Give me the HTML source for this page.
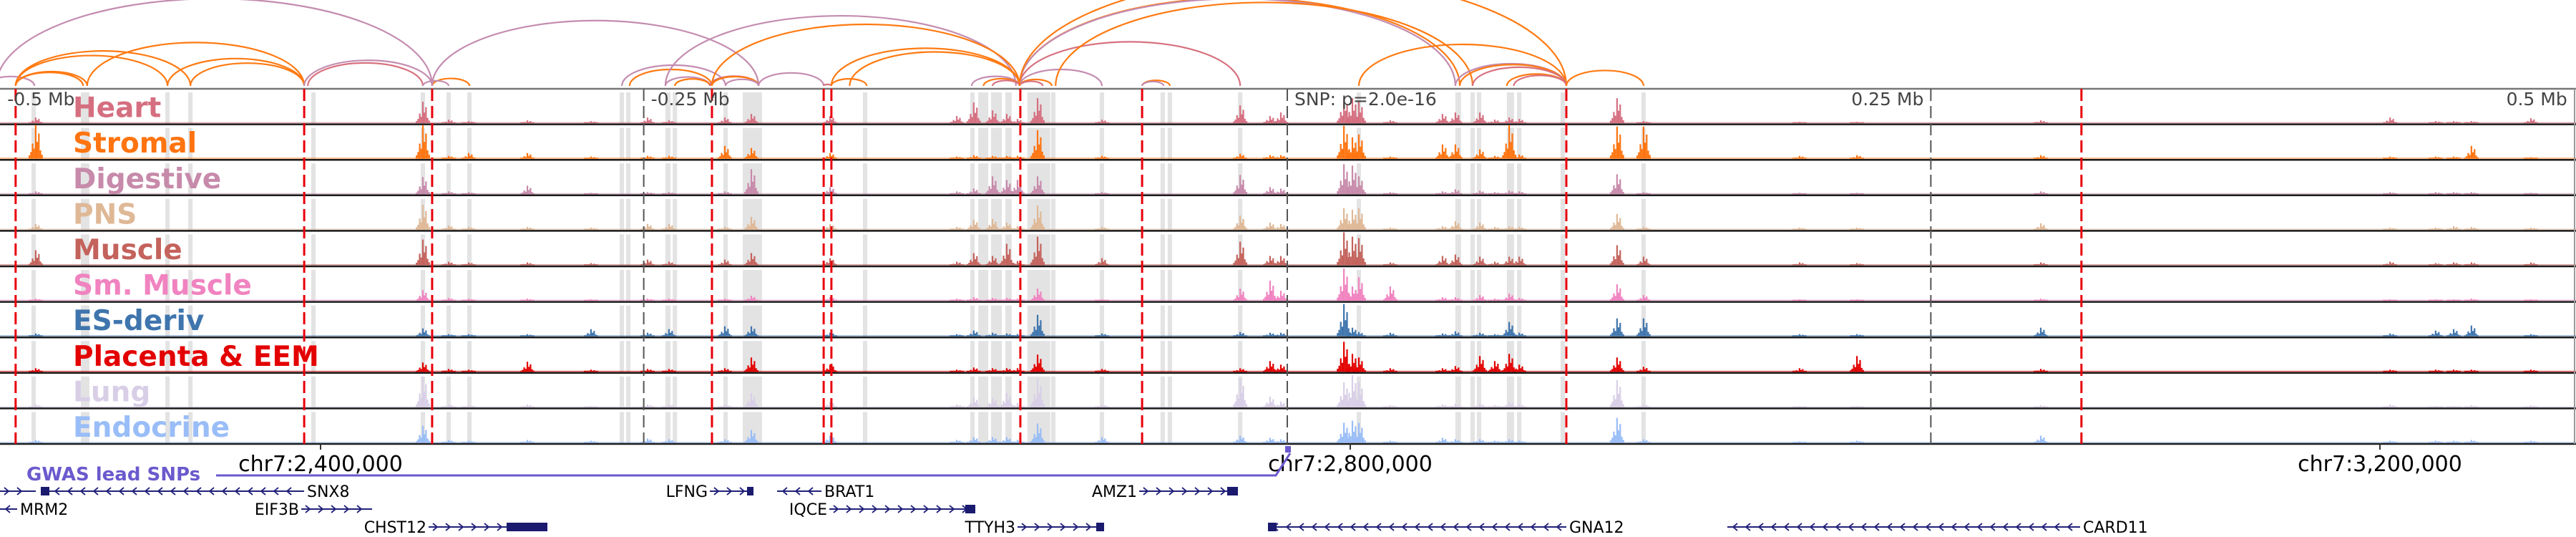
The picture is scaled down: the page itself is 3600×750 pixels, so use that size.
<!DOCTYPE html>
<html><head><meta charset="utf-8"><style>
html,body{margin:0;padding:0;background:#fff;}
svg{display:block;font-family:"DejaVu Sans","Liberation Sans",sans-serif;}
</style></head><body>
<svg id="fig" width="3600" height="750" viewBox="0 0 3600 750" xmlns="http://www.w3.org/2000/svg">
<g id="bands"></g>
<g id="arcs"></g>
<g id="tracks"></g>
<g id="vlines"></g>
<g id="labels"></g>
<g id="axis"></g>
<g id="genes"></g>
</svg>
<script>
// ---- data ----
const snpBp = 2775538;
const axisTickBp = [2400000, 2800000, 3200000];
const axisTickLabels = ["chr7:2,400,000", "chr7:2,800,000", "chr7:3,200,000"];
const relTickKb = [-500, -250, 0, 250, 500];
const relTickLabels = ["-0.5 Mb", "-0.25 Mb", "SNP: p=2.0e-16", "0.25 Mb", "0.5 Mb"];
const trackNames = ["Heart","Stromal","Digestive","PNS","Muscle","Sm. Muscle","ES-deriv","Placenta & EEM","Lung","Endocrine"];
const trackColors = ["#d56f80","#ff7410","#c78aaa","#dfb896","#c4625c","#f083c0","#3f75ad","#e30000","#d8cfe7","#99bdf7"];
const peakKb = [-486.2,-335.8,-325.8,-318.0,-295.2,-270.5,-248.5,-240.2,-218.5,-208.2,-177.6,-128.4,-121.8,-114.5,-109.0,-104.8,-97.0,-72.0,-18.3,-6.7,-2.5,22.0,25.3,27.8,40.0,60.3,65.3,74.8,80.6,86.2,90.1,128.1,138.4,199.0,221.3,292.7,428.4,446.1,453.1,460.0,483.1];
const heartVals    = [8,30,5,3,4,3,8,4,8,13,10,10,29,18,13,6,35,5,25,10,15,35,35,30,4,13,15,15,5,8,6,35,3,2,2,4,8,3,3,3,7];
const stromalVals  = [47,47,4,8,8,3,4,4,18,15,8,3,5,4,4,4,40,4,7,5,5,46,30,34,3,20,20,13,4,47,6,45,45,4,5,5,3,3,3,18,2];
const digestVals   = [4,24,4,3,12,2,3,3,4,35,10,4,8,25,20,20,25,3,27,10,8,42,40,25,3,4,7,5,3,5,4,28,3,2,2,4,3,3,3,3,2];
const pnsVals      = [8,35,6,4,4,3,8,8,4,18,8,4,14,15,10,5,34,4,20,10,8,30,28,30,3,5,12,10,4,5,4,22,4,3,3,9,3,3,5,4,3];
const muscleVals   = [21,36,5,4,4,3,8,5,8,17,10,5,17,13,30,6,40,10,33,13,13,46,40,38,4,13,15,12,5,12,12,28,12,4,3,4,5,3,4,4,4];
const smMuscleVals = [3,15,4,3,3,2,3,3,3,7,5,3,5,4,4,3,17,2,17,28,14,45,20,33,20,5,5,8,3,10,4,23,8,2,2,3,2,2,2,3,2];
const esVals       = [4,11,3,3,3,10,5,10,14,14,5,3,8,5,4,3,30,4,6,5,5,45,12,6,5,4,7,5,3,20,5,25,25,3,3,12,4,8,10,15,3];
const placentaVals = [5,13,4,3,14,3,4,4,5,20,10,3,6,5,5,5,24,4,5,15,10,42,25,20,5,5,8,22,15,25,10,20,7,5,22,4,3,3,3,3,3];
const lungVals     = [4,43,4,3,4,2,4,4,4,20,8,4,14,13,20,6,40,4,40,15,8,35,45,35,3,4,5,5,3,7,4,38,4,2,2,3,4,2,2,3,3];
const endoVals     = [4,24,4,3,4,3,6,5,5,18,10,4,8,8,8,4,27,8,10,7,5,28,31,28,3,7,5,5,3,5,3,35,5,2,3,10,3,3,3,4,3];
const trackVals = [heartVals,stromalVals,digestVals,pnsVals,muscleVals,smMuscleVals,esVals,placentaVals,lungVals,endoVals];
const bandKb = [-487.0,-467.8,-466.2,-435.0,-426.1,-378.3,-335.8,-325.8,-317.7,-258.5,-256.0,-240.6,-237.9,-218.2,-207.8,-164.0,-122.3,-118.1,-113.0,-108.3,-96.5,-90.9,-72.0,-48.4,-45.6,-18.3,27.8,66.4,72.0,74.5,86.7,90.1,107.0,138.4];
const bandWidthKb = [1.7,1.7,1.7,1.7,1.7,1.7,1.7,1.7,1.7,1.7,1.7,2,1.7,1.7,7.5,1.7,1.7,3.9,4.2,2.5,8.9,1.7,1.7,1.7,1.7,1.7,1.7,2.2,1.7,1.7,2.8,1.7,1.7,1.7];
const redLineKb = [-494.0,-381.9,-332.2,-223.5,-180.1,-177.1,-103.7,-56.4,108.4,308.5];
const arcStartKb = [-501.5,-505,-494.0,-494.0,-494.0,-494.0,-466.2,-435.0,-426.1,-381.9,-380.5,-332.2,-335.8,-332.2,-258.5,-255.5,-241.6,-237.9,-224.3,-223.5,-218.2,-241.6,-223.5,-205.4,-177.1,-180.1,-177.1,-170,-122.6,-118,-114.5,-104.0,-104.0,-104.0,-104.0,-56.4,-56.4,-104.0,-104.0,-90,-104,27.8,65.3,67.0,72.0,85.3,88,108.4];
const arcEndKb   = [-332.2,-486.7,-435.0,-426.1,-467.8,-466.2,-381.9,-381.9,-381.9,-332.2,-335.8,-317.7,-325.8,-205.4,-218.2,-223.5,-224.3,-224.3,-205.4,-205.4,-205.4,-105.4,-104.0,-180.1,-163.4,-177.1,-104.0,-104.0,-104.0,-104.0,-104.0,-91.5,-95,-72.0,-18.3,-45.6,-48,67.0,65.3,72.0,108.4,108.4,108.4,108.4,108.4,108.4,108.4,138.4];
const arcType    = ["P","P","O","O","O","O","O","O","O","P","H","O","P","P","P","O","P","O","H","O","P","P","O","P","O","H","O","O","P","O","H","O","H","P","H","O","P","O","P","O","O","O","P","O","H","O","H","O"];

// ---- scales ----
const NS = "http://www.w3.org/2000/svg";
const pxPerBp = 0.0035975, bp0 = 2275469;
function xBp(bp){ return (bp - bp0) * pxPerBp; }
function xKb(kb){ return xBp(snpBp + kb*1000); }
const panelTop = 124, trackH = 49.6, nTracks = 10;
const panelBottom = panelTop + trackH*nTracks;
function trackBottom(i){ return panelTop + trackH*(i+1); }
function yVal(i, v){ return trackBottom(i) - 1.5 - v; }
const arcBase = 120;
function mk(tag, attrs, parent){ const e=document.createElementNS(NS,tag); for(const k in attrs) e.setAttribute(k, attrs[k]); parent.appendChild(e); return e; }
const arcColors = {O:"#ff7a12", P:"#c48cb0", H:"#d7717f"};

// bands
const gB = document.getElementById("bands");
bandKb.forEach((kb,i)=>{
  const w = Math.max(5, bandWidthKb[i]*1000*pxPerBp);
  for(let t=0;t<nTracks;t++){
    const r = mk("rect",{x:xKb(kb)-w/2, y:panelTop+trackH*t+5, width:w, height:trackH-5, fill:"#e3e3e3"}, gB);
    
    
  }
});

// arcs
const gA = document.getElementById("arcs");
arcStartKb.forEach((s,i)=>{
  const x1 = xKb(s), x2 = xKb(arcEndKb[i]);
  const rx = Math.abs(x2-x1)/2, ry = rx*2*0.2;
  const p = mk("path",{d:`M${x1},${arcBase} A${rx},${ry} 0 0 1 ${x2},${arcBase}`, fill:"none", stroke:arcColors[arcType[i]], "stroke-width":2.2}, gA);
  
  
});

// tracks
const gT = document.getElementById("tracks");
const shape = [0.1,0.2,0.45,0.3,1,0.5,0.75,0.25,0.12];
trackVals.forEach((vals,t)=>{
  const col = trackColors[t];
  const base = mk("rect",{x:0,y:trackBottom(t)-3,width:3600,height:1.5,fill:col,opacity:0.6},gT);
  
  
  vals.forEach((v,j)=>{
    const cx = xKb(peakKb[j]);
    shape.forEach((f,k)=>{
      const h = Math.max(1.5, v*f);
      const r = mk("rect",{x:cx+(k-4)*2.2-1.1, y:yVal(t,h), width:2.2, height:h, fill:col}, gT);
      
      
    });
  });
  const sep = mk("line",{x1:0,x2:3600,y1:trackBottom(t),y2:trackBottom(t),stroke:"#1a1a1a","stroke-width":2.5},gT);
  
  
});
const topL = mk("line",{x1:0,x2:3600,y1:panelTop,y2:panelTop,stroke:"#777","stroke-width":2.5},gT);


const rightL = mk("line",{x1:3598,x2:3598,y1:panelTop,y2:panelBottom,stroke:"#999","stroke-width":2},gT);



// vertical marker lines
const gV = document.getElementById("vlines");
redLineKb.forEach(kb=>{
  const l = mk("line",{x1:xKb(kb),x2:xKb(kb),y1:panelTop,y2:panelBottom,stroke:"#e8000b","stroke-width":3,"stroke-dasharray":"17 7"},gV);
  
  
});
relTickKb.forEach((kb,i)=>{
  const x = xKb(kb);
  if (Math.abs(kb) < 400) {
    const l = mk("line",{x1:x,x2:x,y1:panelTop,y2:panelBottom,stroke:"#555","stroke-width":2,"stroke-dasharray":"17 7"},gV);
    
    
  }
  const right = kb > 0;
  const tx = mk("text",{x: right ? x-10 : x+10, y:147, "font-size":25, fill:"#444", "text-anchor": right ? "end":"start"}, gV);
  tx.textContent = relTickLabels[i];
  
  
});

// track labels
const gL = document.getElementById("labels");
trackNames.forEach((n,t)=>{
  const tx = mk("text",{x:102,y:trackBottom(t)-10,"font-size":39,"font-weight":"bold",fill:trackColors[t]},gL);
  tx.textContent = n;
  
  
});

// axis
const gX = document.getElementById("axis");
axisTickBp.forEach((bp,i)=>{
  const x = xBp(bp);
  const l = mk("line",{x1:x,x2:x,y1:panelBottom,y2:panelBottom+8,stroke:"#333","stroke-width":2},gX);
  
  
  const tx = mk("text",{x:x,y:658,"font-size":30,"text-anchor":"middle",fill:"#000"},gX);
  tx.textContent = axisTickLabels[i];
  
  
});
const snpX = xKb(0);
const snpBox = mk("rect",{x:snpX-3,y:623,width:8,height:9,fill:"#6a5acd"},gX);


const gw = mk("polyline",{points:`302,664 ${snpX-16},664 ${snpX+4},633`,fill:"none",stroke:"#6a5acd","stroke-width":3},gX);


const gwt = mk("text",{x:37,y:671,"font-size":26,"font-weight":"bold",fill:"#6a5acd"},gX);
gwt.textContent = "GWAS lead SNPs";



// genes
const gG = document.getElementById("genes");
const genes = [
  {n:"T1",s:0,e:50,y:686,dir:1,lab:"L",box:[57,69]},
  {n:"SNX8",s:69,e:425,y:686,dir:-1,lab:"R"},
  {n:"LFNG",s:992,e:1053,y:686,dir:1,lab:"L",box:[1044,1053]},
  {n:"BRAT1",s:1086,e:1148,y:686,dir:-1,lab:"R"},
  {n:"AMZ1",s:1592,e:1730,y:686,dir:1,lab:"L",box:[1715,1730]},
  {n:"MRM2",s:0,e:24,y:711,dir:-1,lab:"R"},
  {n:"EIF3B",s:421,e:520,y:711,dir:1,lab:"L"},
  {n:"IQCE",s:1159,e:1363,y:711,dir:1,lab:"L",box:[1349,1363]},
  {n:"CHST12",s:599,e:765,y:736,dir:1,lab:"L",box:[708,765]},
  {n:"TTYH3",s:1422,e:1543,y:736,dir:1,lab:"L",box:[1532,1543]},
  {n:"GNA12",s:1772,e:2189,y:736,dir:-1,lab:"R",box:[1772,1784]},
  {n:"CARD11",s:2414,e:2907,y:736,dir:-1,lab:"R"}
];
const gc = "#22227a";
genes.forEach(g=>{
  const grp = mk("g",{},gG);
  
  
  mk("line",{x1:g.s,x2:g.e,y1:g.y,y2:g.y,stroke:gc,"stroke-width":2},grp);
  for(let x=g.s+10; x<g.e-4; x+=18){
    const d = g.dir>0 ? `M${x-4},${g.y-5} L${x+2},${g.y} L${x-4},${g.y+5}` : `M${x+4},${g.y-5} L${x-2},${g.y} L${x+4},${g.y+5}`;
    mk("path",{d:d,fill:"none",stroke:gc,"stroke-width":1.8},grp);
  }
  if(g.box) mk("rect",{x:g.box[0],y:g.y-6,width:g.box[1]-g.box[0],height:12,fill:"#1a1a6e"},grp);
  const tx = mk("text",{x: g.lab==="L" ? g.s-3 : g.e+4, y:g.y+8, "font-size":22, "text-anchor": g.lab==="L" ? "end":"start", fill:"#000"},grp);
  tx.textContent = g.n;
});
</script>
</body></html>
